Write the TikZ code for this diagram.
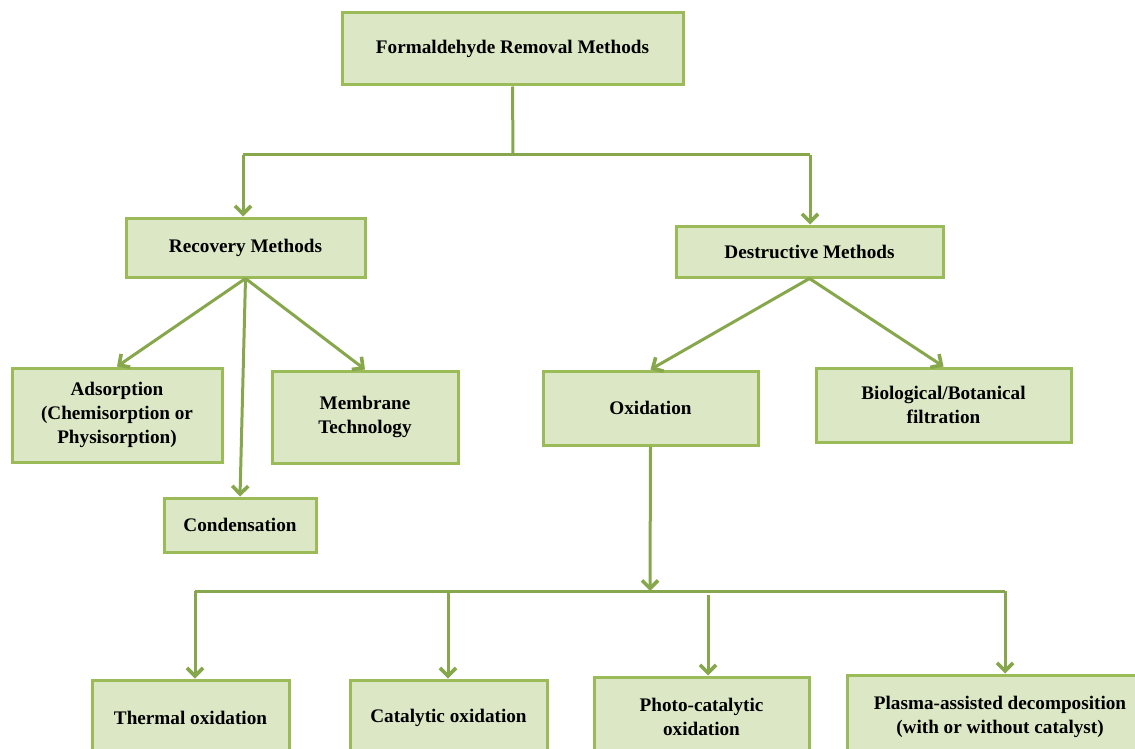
\documentclass[tikz,border=0pt]{standalone}
\usepackage{fontspec}
\setmainfont{Liberation Serif}
\usetikzlibrary{arrows.meta}
\definecolor{boxfill}{HTML}{DCE7C6}
\definecolor{boxline}{HTML}{9BBB59}
\definecolor{conline}{HTML}{87A74C}
\tikzset{
  box/.style={draw=boxline, fill=boxfill, line width=3pt, align=center, inner sep=0pt,
    font=\fontsize{19.2}{24}\selectfont\bfseries, text=black},
  conn/.style={draw=conline, line width=3pt},
  arr/.style={conn, -{Straight Barb[length=8pt,width=16pt,line width=3.6pt]}},
}
\begin{document}
\begin{tikzpicture}[x=1pt,y=-1pt]
\useasboundingbox (0,0) rectangle (1135,749);
\clip (0,0) rectangle (1135,749);
% nodes
\node[box, minimum width=341pt, minimum height=72pt] (top) at (512.5,49) {Formaldehyde Removal Methods};
\node[box, minimum width=239pt, minimum height=59pt] (rec) at (245.5,247.5) {Recovery Methods};
\node[box, minimum width=267pt, minimum height=51pt] (des) at (809.5,251.5) {Destructive Methods};
\node[box, minimum width=210pt, minimum height=94pt] (ads) at (117,415) {Adsorption\\(Chemisorption or\\Physisorption)};
\node[box, minimum width=186pt, minimum height=92pt] (mem) at (365,417) {Membrane\\Technology};
\node[box, minimum width=152pt, minimum height=54pt] (con) at (240,525) {Condensation};
\node[box, minimum width=215pt, minimum height=74pt] (oxi) at (650.5,408) {Oxidation};
\node[box, minimum width=255pt, minimum height=74pt] (bio) at (943.5,405) {Biological/Botanical\\filtration};
\node[box, minimum width=197pt, minimum height=76pt] (the) at (190.5,718) {Thermal oxidation};
\node[box, minimum width=197pt, minimum height=76pt] (cat) at (448.5,718) {Catalytic oxidation};
\node[box, minimum width=215pt, minimum height=80pt] (pho) at (701.5,717) {Photo-catalytic\\oxidation};
\node[box, minimum width=306pt, minimum height=84pt] (pla) at (1000,717) {Plasma-assisted decomposition\\(with or without catalyst)};
% junctions
\coordinate (h1) at (513,155);
\coordinate (hL) at (243,155);
\coordinate (hR) at (810,155);
\coordinate (b0) at (650,591);
\coordinate (b1) at (195,591);
\coordinate (b2) at (448,591);
\coordinate (b3) at (708,595);
\coordinate (b4) at (1005,591);
% connectors
\draw[conn] (top.south) -- (h1);
\draw[conn] (hL) -- (hR);
\draw[arr] (hL) -- (rec.north -| hL);
\draw[arr] (hR) -- (des.north -| hR);
\draw[arr] (rec.south) -- (ads.north);
\draw[arr] (rec.south) -- (con.north);
\draw[arr] (rec.south) -- (mem.north);
\draw[arr] (des.south) -- (oxi.north);
\draw[arr] (des.south) -- (bio.north);
\draw[arr] (oxi.south) -- (b0);
\draw[conn] (b1) -- (b4);
\draw[arr] (b1) -- (b1 |- the.north);
\draw[arr] (b2) -- (b2 |- cat.north);
\draw[arr] (b3) -- (b3 |- pho.north);
\draw[arr] (b4) -- (b4 |- pla.north);
\end{tikzpicture}
\end{document}
